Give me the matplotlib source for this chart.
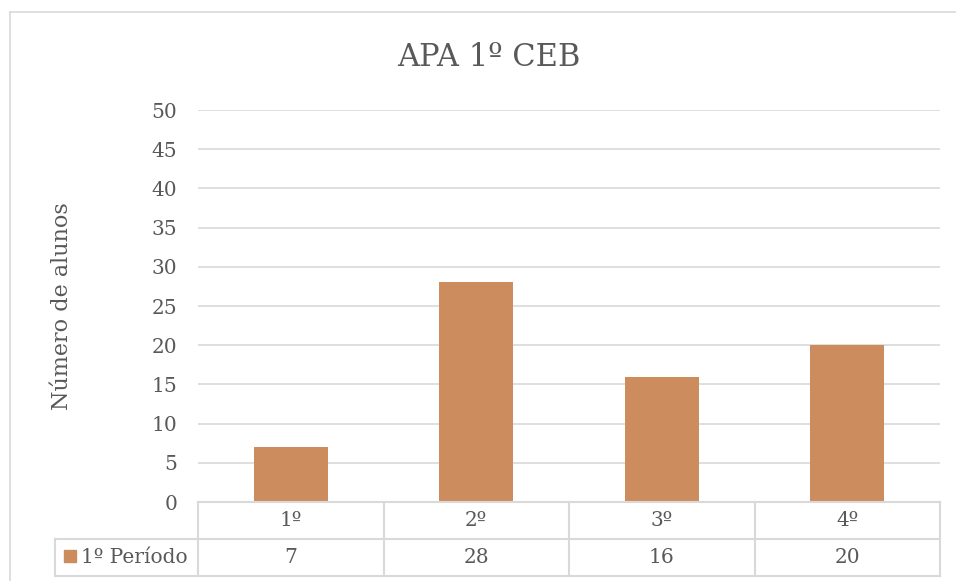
import matplotlib.pyplot as plt
from matplotlib.lines import Line2D
import matplotlib.transforms as mtransforms

# 数据
categories = ['1º', '2º', '3º', '4º']
alunos = [7, 28, 16, 20]
serie = '1º Período'
titulo = 'APA 1º CEB'
y_label = 'Número de alunos'

cor_barra = '#CD8C5E'
cor_texto = '#595959'
cor_linha = '#D9D9D9'
fonte = 'DejaVu Serif'
fs = 14.5

W, H = 956, 581


def fx(x):
    return x / W


def fy(y):
    return 1 - y / H


fig = plt.figure(figsize=(W / 100, H / 100), dpi=100)
plt.rcParams['font.family'] = [fonte, 'Liberation Serif']

# 区域边框
fig.add_artist(Line2D([fx(10), fx(960)], [fy(12), fy(12)], color=cor_linha, lw=1.2))
fig.add_artist(Line2D([fx(10), fx(10)], [fy(12), fy(590)], color=cor_linha, lw=1.2))

# 绘图区
left, right, top, bottom = 198, 940, 110, 502
ax = fig.add_axes([fx(left), fy(bottom), fx(right - left), (bottom - top) / H])

x = list(range(len(categories)))
ax.bar(x, alunos, width=0.4, color=cor_barra, zorder=3)
ax.set_xlim(-0.5, len(categories) - 0.5)
ax.set_ylim(0, 50)
ax.set_yticks(range(0, 51, 5))
ax.set_xticks([])
ax.yaxis.grid(True, color=cor_linha, lw=1.2, zorder=0)
for s in ax.spines.values():
    s.set_visible(False)
ax.tick_params(axis='y', length=0, pad=15, labelsize=fs, labelcolor=cor_texto)

fig.text(fx(489), fy(57), titulo, ha='center', va='center', fontsize=22, color=cor_texto)
ax.set_ylabel(y_label, fontsize=16, color=cor_texto)
ax.yaxis.set_label_coords((73 - left) / (right - left), 0.5)

# 数据表
row_h = 37
ax_h = bottom - top
trans = mtransforms.blended_transform_factory(ax.transData, ax.transAxes)


def ay(ypx):
    return (bottom - ypx) / ax_h


# 水平线
for ypx, x0 in [(bottom, left), (bottom + row_h, 55), (bottom + 2 * row_h, 55)]:
    fig.add_artist(Line2D([fx(x0), fx(right)], [fy(ypx), fy(ypx)], color=cor_linha, lw=1.5))
# 竖线
for i in range(len(categories) + 1):
    xd = i - 0.5
    ax.plot([xd, xd], [ay(bottom), ay(bottom + 2 * row_h)], color=cor_linha, lw=1.5,
            transform=trans, clip_on=False)
fig.add_artist(Line2D([fx(55), fx(55)], [fy(bottom + row_h), fy(bottom + 2 * row_h)],
                      color=cor_linha, lw=1.5))

for i, (c, v) in enumerate(zip(categories, alunos)):
    ax.text(i, ay(bottom + row_h / 2), c, transform=trans, ha='center', va='center',
            fontsize=fs, color=cor_texto)
    ax.text(i, ay(bottom + 1.5 * row_h), str(v), transform=trans, ha='center', va='center',
            fontsize=fs, color=cor_texto)

# 图例
fig.add_artist(plt.Rectangle((fx(64), fy(562)), fx(12), 12 / H, color=cor_barra))
fig.text(fx(81), fy(bottom + 1.5 * row_h), serie, ha='left', va='center',
         fontsize=fs, color=cor_texto)

fig.savefig('out.png', dpi=100)
